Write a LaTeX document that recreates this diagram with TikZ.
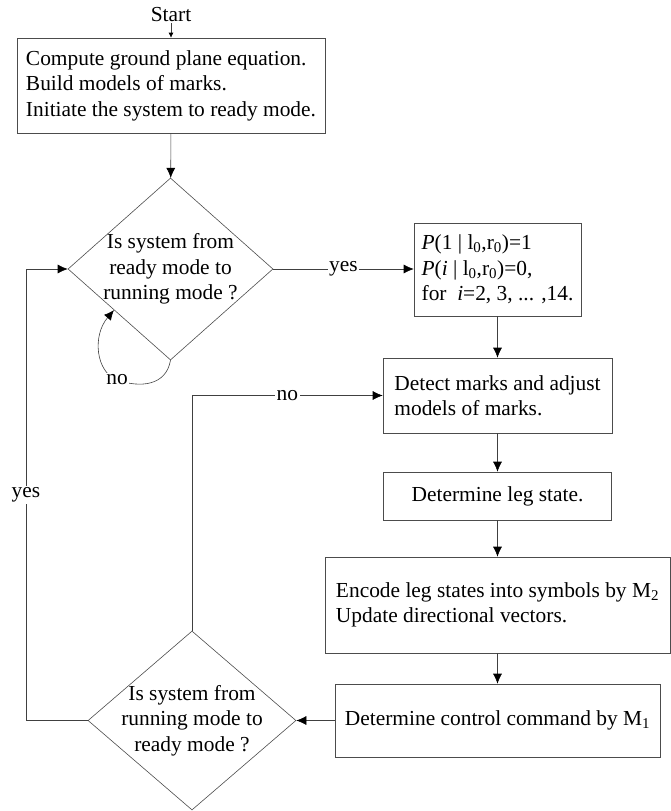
\documentclass[tikz,border=0pt]{standalone}
\usepackage{fontspec}
\setmainfont{Liberation Serif}
\usetikzlibrary{arrows.meta,shapes.geometric,calc}
\begin{document}
\begin{tikzpicture}[x=1pt,y=-1pt,
  every node/.style={font=\fontsize{21.4}{25.5}\selectfont},
  ln/.style={draw=black!75, line width=0.6pt},
  arr/.style={ln, -{Latex[length=10pt,width=9pt,color=black]}},
  box/.style={draw=black!70, line width=0.6pt, rectangle, inner sep=0pt},
  decision/.style={draw=black!70, line width=0.6pt, diamond, inner sep=0pt},
  lbl/.style={fill=white, inner sep=1.5pt}
]
\useasboundingbox (0,0) rectangle (671,811);

\node[inner sep=1pt] (start) at (171,15) {Start};
\node[box, minimum width=308pt, minimum height=95pt, align=left] (b1) at (171,85.5)
  {Compute ground plane equation.\\Build models of marks.\\Initiate the system to ready mode.};

\node[decision, minimum width=205pt, minimum height=182pt] (d1) at (170.5,269) {};
\node[align=center, inner sep=0pt] (d1t) at (d1.center) {Is system from\\ready mode to\\running mode ?};

\node[box, minimum width=167pt, minimum height=93pt, align=left] (bP) at (497.5,269.5)
  {\textit{P}(1 | l\textsubscript{0},r\textsubscript{0})=1\\
   \textit{P}(\textit{i} | l\textsubscript{0},r\textsubscript{0})=0,\\
   for\ \ \textit{i}=2, 3, ... ,14.};

\node[box, minimum width=229pt, minimum height=75pt, align=left] (bDet) at (497.5,395.5)
  {Detect marks and adjust\\models of marks.};

\node[box, minimum width=228pt, minimum height=48pt] (bLeg) at (497.5,496) {Determine leg state.};

\node[box, minimum width=345pt, minimum height=96pt, align=left] (bEnc) at (497.5,605)
  {Encode leg states into symbols by M\textsubscript{2}\\Update directional vectors.};

\node[box, minimum width=325pt, minimum height=73pt] (bCtl) at (497.5,720.5)
  {Determine control command by M\textsubscript{1}};

\node[decision, minimum width=208pt, minimum height=179pt] (d2) at (192,720.5) {};
\node[align=center, inner sep=0pt] (d2t) at (d2.center) {Is system from\\running mode to\\ready mode ?};

\coordinate (lx) at (26,0);
\coordinate (tip) at ($(d1.west)!0.45!(d1.south)$);

% connectors
\draw[ln, -{Latex[length=5pt,width=5pt,color=black]}] (start) -- (b1);
\draw[arr] (b1) -- (d1);
\draw[arr] (d1.east) -- node[lbl] {yes} (d1.east -| bP.west);
\draw[arr] (bP) -- (bDet);
\draw[arr] (bDet) -- (bLeg);
\draw[arr] (bLeg) -- (bEnc);
\draw[arr] (bEnc) -- (bCtl);
\draw[arr] (bCtl.west) -- (d2.east);
\draw[arr] (d2.north) |- node[lbl, pos=0.75] {no} (bDet.west);
\draw[arr] (d2.west) -- (d2.west -| lx) -- node[lbl] {yes} (d1.west -| lx) -- (d1.west);
\draw[arr] (d1.south) .. controls (166,386) and (140,388) .. (117,380)
  node[lbl] {no}
  .. controls (96,372) and (92,336) .. (tip);
\end{tikzpicture}
\end{document}
